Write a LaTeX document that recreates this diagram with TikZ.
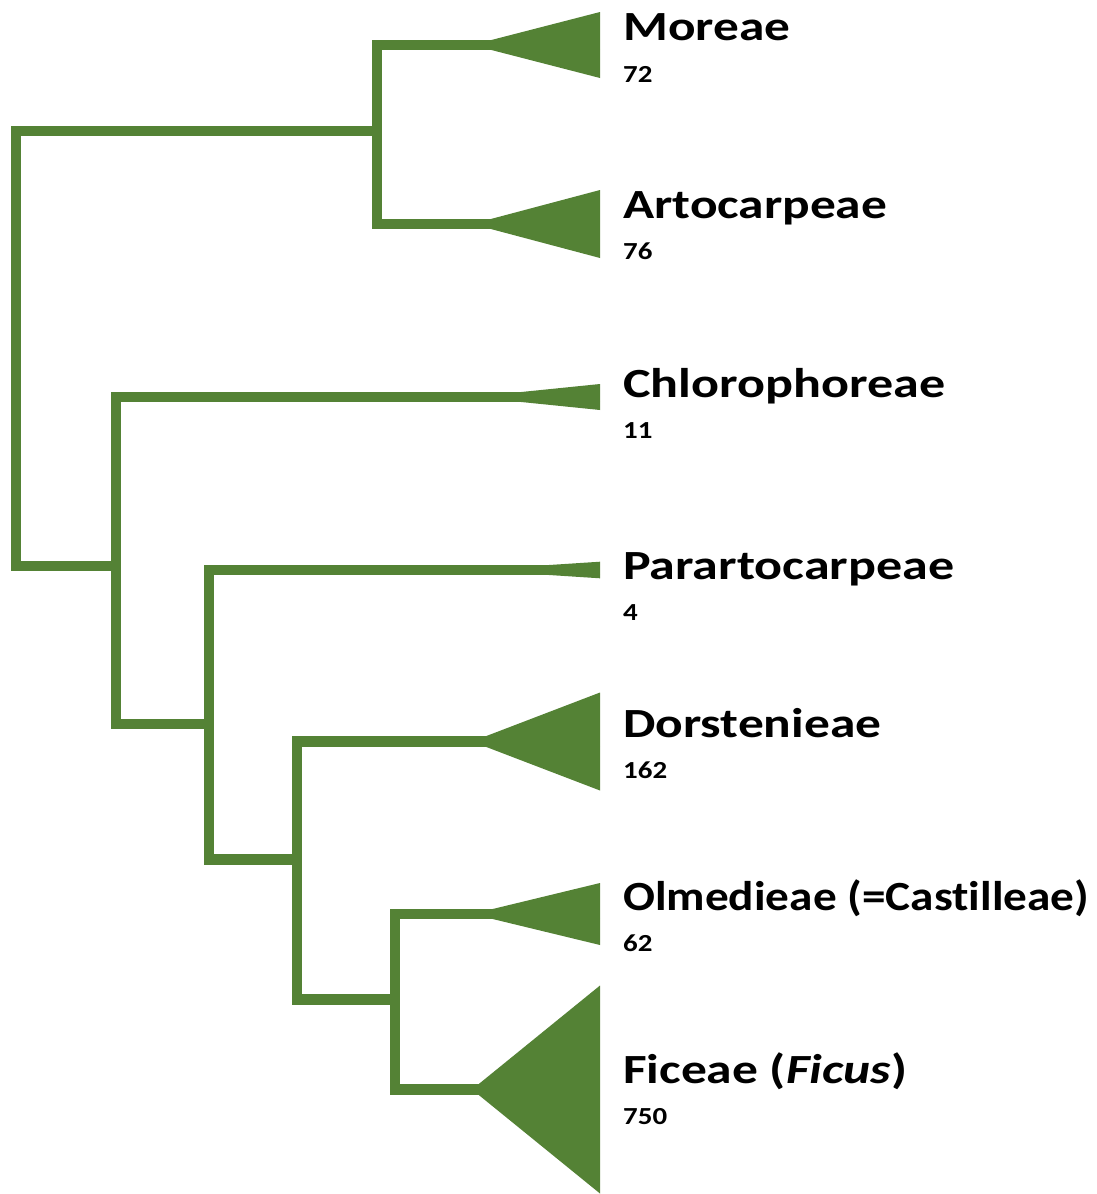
\documentclass[tikz,border=0pt]{standalone}
\usepackage{fontspec}
\setmainfont{Carlito}[Ligatures=NoCommon]
\definecolor{treegreen}{HTML}{548235}
\newcommand{\fitwidth}[2]{\resizebox{#1pt}{\height}{#2}}
\newcommand{\widetext}[2]{\scalebox{#1}[1]{#2}}
\begin{document}
\begin{tikzpicture}[x=1pt,y=-1pt,
  branch/.style={draw=treegreen,line width=10.5pt,line join=miter},
  clade/.style={fill=treegreen},
  taxon/.style={anchor=base west,inner sep=0pt,font=\bfseries\fontsize{41.5}{48}\selectfont},
  count/.style={anchor=base west,inner sep=0pt,font=\bfseries\fontsize{24.5}{28}\selectfont}]
\useasboundingbox (0,0) rectangle (1097,1194);
% tips (base centre of collapsed-clade triangles)
\coordinate (tMo) at (600,45);
\coordinate (tAr) at (600,224);
\coordinate (tCh) at (600,397);
\coordinate (tPa) at (600,570);
\coordinate (tDo) at (600,741.5);
\coordinate (tOl) at (600,914);
\coordinate (tFi) at (600,1089.5);
% internal nodes
\coordinate (root) at (16,348);
\coordinate (n1) at (377,131);
\coordinate (n2) at (116,566);
\coordinate (n3) at (209,724);
\coordinate (n4) at (297,859.5);
\coordinate (n5) at (395,999.5);
% branches
\draw[branch] (tMo) -| (n1) |- (tAr);
\draw[branch] (n1) -| (root) |- (n2);
\draw[branch] (tCh) -| (n2) |- (n3);
\draw[branch] (tPa) -| (n3) |- (n4);
\draw[branch] (tDo) -| (n4) |- (n5);
\draw[branch] (tOl) -| (n5) |- (tFi);
% collapsed clades
\fill[clade] (tMo) ++(-128,0) -- ++(128,-33) -- ++(0,66) -- cycle;
\fill[clade] (tAr) ++(-128,0) -- ++(128,-34) -- ++(0,68) -- cycle;
\fill[clade] (tCh) ++(-128,0) -- ++(128,-13) -- ++(0,26) -- cycle;
\fill[clade] (tPa) ++(-128,0) -- ++(128,-8.3) -- ++(0,16.6) -- cycle;
\fill[clade] (tDo) ++(-128,0) -- ++(128,-49) -- ++(0,98) -- cycle;
\fill[clade] (tOl) ++(-128,0) -- ++(128,-31) -- ++(0,62) -- cycle;
\fill[clade] (tFi) ++(-128,0) -- ++(128,-104) -- ++(0,208) -- cycle;
% labels
\node[taxon] (lMo) at (623,40) {\fitwidth{167}{Moreae}};
\node[count] (cMo) at (623,82) {\widetext{1.18}{72}};
\node[taxon] (lAr) at (623,218) {\fitwidth{264}{Artocarpeae}};
\node[count] (cAr) at (623,259) {\widetext{1.18}{76}};
\node[taxon] (lCh) at (623,397.5) {\fitwidth{322}{Chlorophoreae}};
\node[count] (cCh) at (623,438.5) {\widetext{1.18}{11}};
\node[taxon] (lPa) at (623,579) {\fitwidth{331}{Parartocarpeae}};
\node[count] (cPa) at (623,620) {\widetext{1.18}{4}};
\node[taxon] (lDo) at (623,737.5) {\fitwidth{258}{Dorstenieae}};
\node[count] (cDo) at (623,778.5) {\widetext{1.18}{162}};
\node[taxon] (lOl) at (623,910) {\fitwidth{466}{Olmedieae (=Castilleae)}};
\node[count] (cOl) at (623,951.5) {\widetext{1.18}{62}};
\node[taxon] (lFi) at (623,1083.5) {\fitwidth{284}{Ficeae (\textit{Ficus})}};
\node[count] (cFi) at (623,1124.5) {\widetext{1.18}{750}};
\end{tikzpicture}
\end{document}
